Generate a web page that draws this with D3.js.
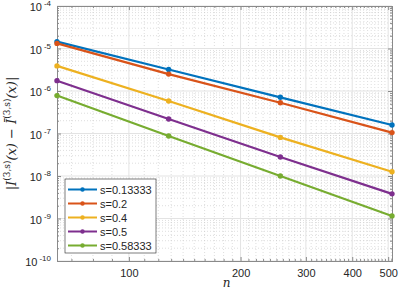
<!DOCTYPE html>
<html>
<head>
<meta charset="utf-8">
<script src="https://cdn.jsdelivr.net/npm/d3@7"></script>
<style>
  body { margin: 0; background: #fff; }
  svg { font-family: "Liberation Sans", Arial, sans-serif; }
</style>
</head>
<body>
<div id="chart"></div>
<script>
// data
var nValues = [64, 128, 256, 512];
var seriesNames = ["s=0.13333", "s=0.2", "s=0.4", "s=0.5", "s=0.58333"];
var sA = [1.45e-5, 3.2e-6, 7.1e-7, 1.58e-7];
var sB = [1.32e-5, 2.5e-6, 5.3e-7, 1.05e-7];
var sC = [3.9e-6, 5.8e-7, 8.1e-8, 1.26e-8];
var sD = [1.75e-6, 2.2e-7, 2.8e-8, 3.8e-9];
var sE = [7.8e-7, 8.7e-8, 1.0e-8, 1.15e-9];
var colors = ["#0072BD", "#D95319", "#EDB120", "#7E2F8E", "#77AC30"];
var xTicks = [100, 200, 300, 400, 500];
var yExps = [-10, -9, -8, -7, -6, -5, -4];

var allSeries = [sA, sB, sC, sD, sE];

var W = 399, H = 294;
var margin = {top: 6, right: 7, bottom: 33, left: 57};
var width = W - margin.left - margin.right,
    height = H - margin.top - margin.bottom;

var svg = d3.select("#chart").append("svg")
    .attr("width", W).attr("height", H);
var g = svg.append("g")
    .attr("transform", "translate(" + margin.left + "," + margin.top + ")");

var x = d3.scaleLog().domain([64, 512]).range([0, width]);
var y = d3.scaleLog().domain([1e-10, 1e-4]).range([height, 0]);

// minor grid
var xMinor = d3.range(70, 512, 10).filter(function(v){ return xTicks.indexOf(v) < 0; });
var yMinor = [];
yExps.slice(0, -1).forEach(function(e){
  for (var k = 2; k <= 9; k++) yMinor.push(k * Math.pow(10, e));
});

g.selectAll(".xminor").data(xMinor).enter().append("line")
  .attr("x1", function(d){ return x(d); }).attr("x2", function(d){ return x(d); })
  .attr("y1", 0).attr("y2", height)
  .attr("stroke", "#c8c8c8").attr("stroke-width", 0.6).attr("stroke-dasharray", "1,2");
g.selectAll(".yminor").data(yMinor).enter().append("line")
  .attr("y1", function(d){ return y(d); }).attr("y2", function(d){ return y(d); })
  .attr("x1", 0).attr("x2", width)
  .attr("stroke", "#c8c8c8").attr("stroke-width", 0.6).attr("stroke-dasharray", "1,2");

// major grid
g.selectAll(".xmajor").data(xTicks).enter().append("line")
  .attr("x1", function(d){ return x(d); }).attr("x2", function(d){ return x(d); })
  .attr("y1", 0).attr("y2", height)
  .attr("stroke", "#e3e3e3").attr("stroke-width", 1);
g.selectAll(".ymajor").data(yExps).enter().append("line")
  .attr("y1", function(d){ return y(Math.pow(10, d)); }).attr("y2", function(d){ return y(Math.pow(10, d)); })
  .attr("x1", 0).attr("x2", width)
  .attr("stroke", "#e3e3e3").attr("stroke-width", 1);

// axes
var axisColor = "#8a8a8a";
var xAxis = d3.axisBottom(x).tickValues(xTicks).tickFormat(d3.format("d")).tickSize(-4).tickPadding(8);
var yAxis = d3.axisLeft(y).tickValues(yExps.map(function(e){ return Math.pow(10, e); })).tickFormat("").tickSize(-4);

var gx = g.append("g").attr("transform", "translate(0," + height + ")").call(xAxis);
var gy = g.append("g").call(yAxis);
g.append("g").call(d3.axisTop(x).tickValues(xTicks).tickFormat("").tickSize(-4));
g.append("g").attr("transform", "translate(" + width + ",0)")
  .call(d3.axisRight(y).tickValues(yExps.map(function(e){ return Math.pow(10, e); })).tickFormat("").tickSize(-4));

// minor ticks
g.append("g").attr("transform", "translate(0," + height + ")")
  .call(d3.axisBottom(x).tickValues(xMinor).tickFormat("").tickSize(-2));
g.append("g").call(d3.axisTop(x).tickValues(xMinor).tickFormat("").tickSize(-2));
g.append("g").call(d3.axisLeft(y).tickValues(yMinor).tickFormat("").tickSize(-2));
g.append("g").attr("transform", "translate(" + width + ",0)")
  .call(d3.axisRight(y).tickValues(yMinor).tickFormat("").tickSize(-2));

g.selectAll(".domain").attr("stroke", axisColor);
g.selectAll(".tick line").attr("stroke", axisColor);
gx.selectAll("text").attr("fill", "#262626").style("font-size", "11px");

// y tick labels 10^k
yExps.forEach(function(e){
  var t = g.append("text")
    .attr("x", -6).attr("y", y(Math.pow(10, e)) + 5)
    .attr("text-anchor", "end")
    .attr("fill", "#262626").style("font-size", "11px");
  t.append("tspan").text("10");
  t.append("tspan").attr("dy", -5).attr("dx", 2).style("font-size", "8px").text(e);
});

// lines
var line = d3.line()
  .x(function(d, i){ return x(nValues[i]); })
  .y(function(d){ return y(d); });

allSeries.forEach(function(s, k){
  g.append("path").datum(s)
    .attr("fill", "none").attr("stroke", colors[k]).attr("stroke-width", 2.2)
    .attr("d", line);
  g.selectAll(".pt" + k).data(s).enter().append("circle")
    .attr("cx", function(d, i){ return x(nValues[i]); })
    .attr("cy", function(d){ return y(d); })
    .attr("r", 2.7).attr("fill", colors[k]);
});

// axis labels
svg.append("text")
  .attr("x", margin.left + width / 2 + 2).attr("y", 287)
  .attr("text-anchor", "middle")
  .style("font-family", "'DejaVu Serif', serif").style("font-style", "italic").style("font-size", "12px")
  .attr("fill", "#262626").text("n");

var yl = svg.append("text")
  .attr("transform", "translate(16," + (margin.top + height / 2) + ") rotate(-90)")
  .attr("text-anchor", "middle")
  .style("font-family", "'DejaVu Serif', serif").style("font-style", "italic").style("font-size", "13px")
  .attr("fill", "#262626");
yl.append("tspan").text("|I");
yl.append("tspan").attr("dy", -6).style("font-size", "9px").style("font-style", "normal").text("(3,s)");
yl.append("tspan").attr("dy", 6).text("(x) \u2212 ");
yl.append("tspan").text("\u012A");
yl.append("tspan").attr("dy", -6).style("font-size", "9px").style("font-style", "normal").text("(3,s)");
yl.append("tspan").attr("dy", 6).text("(x)|");

// legend
var lg = svg.append("g").attr("transform", "translate(65,179)");
lg.append("rect").attr("width", 91).attr("height", 74)
  .attr("fill", "#fff").attr("stroke", "#262626").attr("stroke-width", 0.6);
seriesNames.forEach(function(name, k){
  var yy = 10.5 + k * 14;
  lg.append("line").attr("x1", 3).attr("x2", 32).attr("y1", yy).attr("y2", yy)
    .attr("stroke", colors[k]).attr("stroke-width", 2);
  lg.append("circle").attr("cx", 17.5).attr("cy", yy).attr("r", 2.2).attr("fill", colors[k]);
  lg.append("text").attr("x", 35).attr("y", yy + 4)
    .style("font-size", "11px").attr("fill", "#262626").text(name);
});
</script>
</body>
</html>
